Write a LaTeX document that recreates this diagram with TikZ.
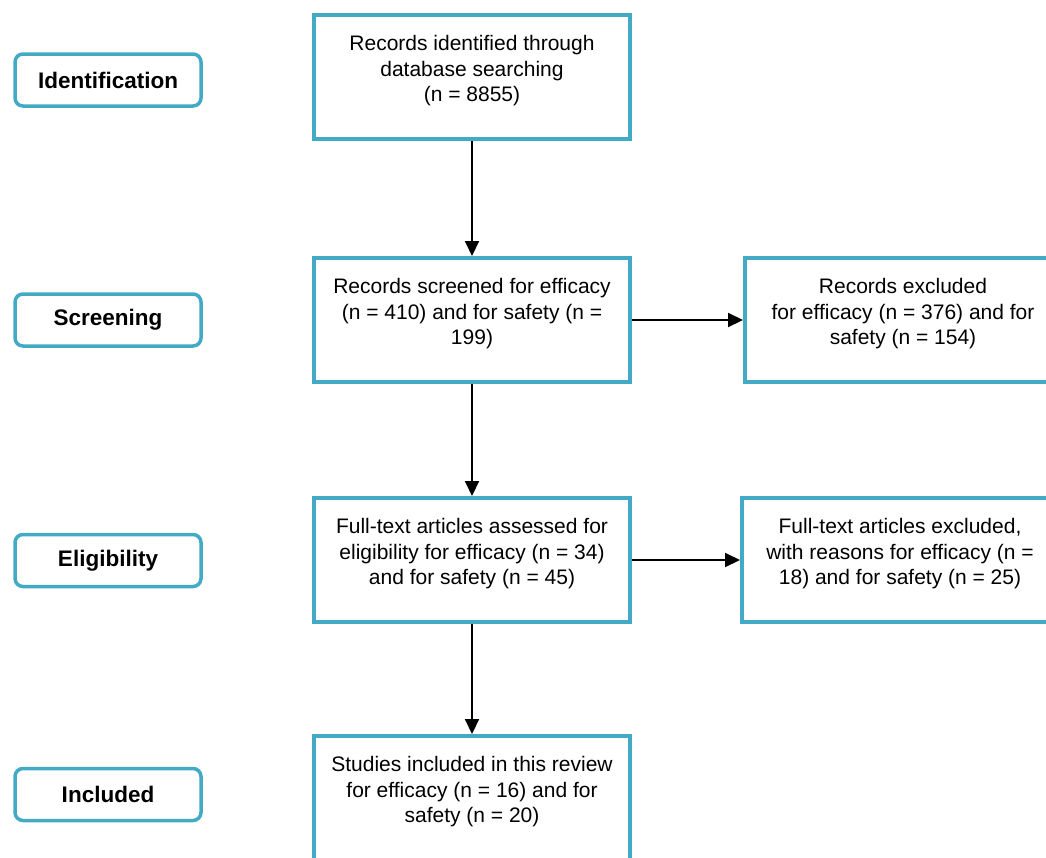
\documentclass[tikz,border=0pt]{standalone}
\usepackage{fontspec}
\setmainfont{Liberation Sans}
\usetikzlibrary{arrows.meta}
\definecolor{prismablue}{RGB}{66,170,197}

\begin{document}
\begin{tikzpicture}[x=1pt,y=-1pt,
        flowbox/.style={draw=prismablue,line width=4pt,fill=white,minimum width=316pt,minimum height=124pt,
            align=center,font=\fontsize{21}{25.5}\selectfont,text depth=17pt},
        stagebox/.style={draw=prismablue,line width=3.5pt,rounded corners=8pt,fill=white,
            minimum width=186pt,minimum height=52pt,font=\fontsize{22.5}{27}\selectfont\bfseries},
        flowarrow/.style={line width=2pt,-{Triangle[length=15pt,width=14pt]}}]
            \useasboundingbox (0,0) rectangle (1046,857);
            \clip (0,0) rectangle (1046,857);
            % stage labels on the left
            \foreach \name/\y/\txt in {ident/80/Identification,screen/320/Screening,elig/560.5/Eligibility,incl/794.5/Included}
                \node[stagebox] (stage-\name) at (108,\y) {\txt};
            % main column
            \node[flowbox] (rec-ident) at (472,77) {Records identified through\\database searching\\(n = 8855)};
            \node[flowbox] (rec-screen) at (472,320) {Records screened for efficacy\\(n = 410) and for safety (n =\\199)};
            \node[flowbox] (rec-full) at (472,560) {Full-text articles assessed for\\eligibility for efficacy (n = 34)\\and for safety (n = 45)};
            \node[flowbox] (rec-incl) at (472,798) {Studies included in this review\\for efficacy (n = 16) and for\\safety (n = 20)};
            % excluded column
            \node[flowbox] (exc-screen) at (903,320) {Records excluded\\for efficacy (n = 376) and for\\safety (n = 154)};
            \node[flowbox] (exc-full) at (900,560) {Full-text articles excluded,\\with reasons for efficacy (n =\\18) and for safety (n = 25)};
            \draw[flowarrow] (rec-ident) -- (rec-screen);
            \draw[flowarrow] (rec-screen) -- (rec-full);
            \draw[flowarrow] (rec-full) -- (rec-incl);
            \draw[flowarrow] (rec-screen) -- (exc-screen);
            \draw[flowarrow] (rec-full) -- (exc-full);
        \end{tikzpicture}
\end{document}
